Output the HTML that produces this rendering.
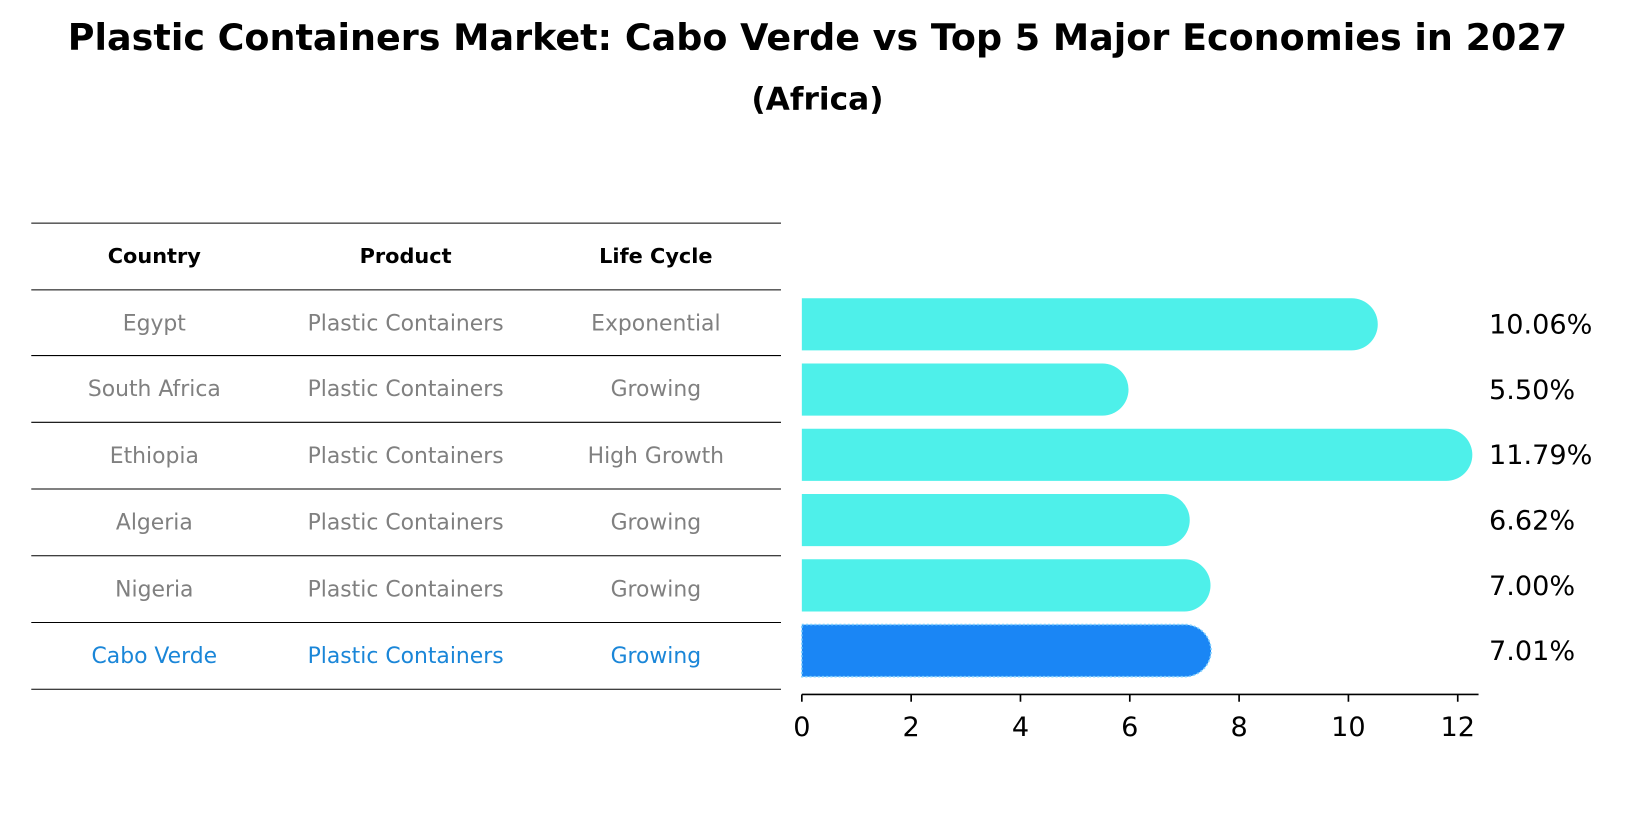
<!DOCTYPE html>
<html><head><meta charset="utf-8"><style>
body{margin:0;background:#fff;font-family:"DejaVu Sans","Liberation Sans",sans-serif;}
svg text{font-family:"DejaVu Sans","Liberation Sans",sans-serif;}
</style></head><body>
<svg width="1635" height="823" xmlns="http://www.w3.org/2000/svg">
<g transform="scale(1.0427)">
<text x="784" y="48" text-anchor="middle" font-size="35" font-weight="bold">Plastic Containers Market: Cabo Verde vs Top 5 Major Economies in 2027</text>
<text x="784" y="105" text-anchor="middle" font-size="30" font-weight="bold">(Africa)</text>
<g id="table"></g>
<g id="bars"></g>
<g id="axis"></g>
</g>
</svg>
<script>
const countries=["Egypt","South Africa","Ethiopia","Algeria","Nigeria","Cabo Verde"];
const products=["Plastic Containers","Plastic Containers","Plastic Containers","Plastic Containers","Plastic Containers","Plastic Containers"];
const lifeCycles=["Exponential","Growing","High Growth","Growing","Growing","Growing"];
const values=[10.06,5.50,11.79,6.62,7.00,7.01];
const ticks=[0,2,4,6,8,10,12];
const NS="http://www.w3.org/2000/svg";
function mk(t,a,p,txt){const e=document.createElementNS(NS,t);for(const k in a)e.setAttribute(k,a[k]);if(txt!==undefined)e.textContent=txt;p.appendChild(e);return e;}
const X=v=>769+v*52.42;
const rowY=i=>311+i*62.6;
const table=document.getElementById('table'),bars=document.getElementById('bars'),axis=document.getElementById('axis');
const lines=[214,278,341,405,469,533,597,661];
lines.forEach((y,i)=>{const l=mk('line',{x1:30,x2:749,y1:y,y2:y,stroke:'#000','stroke-width':1},table);

});
const cx=[148,389,629];
["Country","Product","Life Cycle"].forEach((h,j)=>{const t=mk('text',{x:cx[j],y:252,'text-anchor':'middle','font-size':20,'font-weight':'bold'},table,h);

});
countries.forEach((c,i)=>{const y=lines[i+1]+39;const col=i===5?'#1a86d8':'#808080';
[c,products[i],lifeCycles[i]].forEach((s,j)=>{const t=mk('text',{x:cx[j],y:y,'text-anchor':'middle','font-size':21,fill:col},table,s);

});
const h=50,r=25,x0=X(0),x1=X(values[i]),yc=rowY(i);
const p=mk('path',{d:`M${x0},${yc-h/2}H${x1}A${r},${r} 0 0 1 ${x1},${yc+h/2}H${x0}Z`,fill:i===5?'#1a86f5':'#4ef0ea'},bars);
if(i===5){p.setAttribute('stroke','#7fd0ff');p.setAttribute('stroke-dasharray','2,2');p.setAttribute('stroke-width','1.5');}


const t=mk('text',{x:1428,y:yc+9,'font-size':26},bars,values[i].toFixed(2)+'%');

});
const al=mk('line',{x1:769,x2:1418,y1:666,y2:666,stroke:'#000','stroke-width':1.6},axis);


ticks.forEach(v=>{const l=mk('line',{x1:X(v),x2:X(v),y1:666,y2:673,stroke:'#000','stroke-width':1.6},axis);


const t=mk('text',{x:X(v),y:706,'text-anchor':'middle','font-size':26},axis,String(v));

});
</script>
</body></html>
